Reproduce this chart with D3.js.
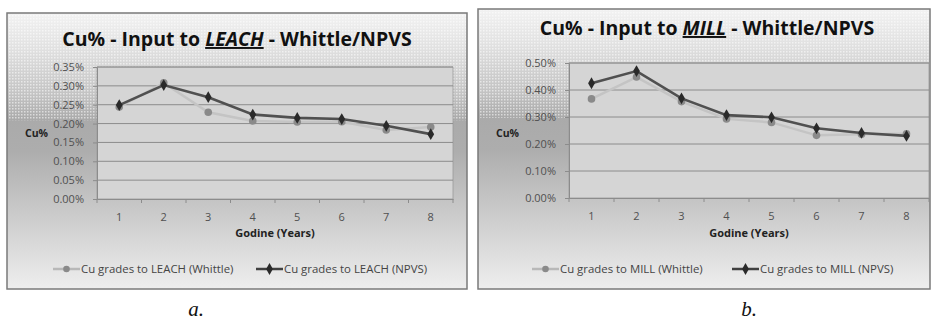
<!DOCTYPE html>
<html><head><meta charset="utf-8">
<script src="https://cdn.jsdelivr.net/npm/d3@7/dist/d3.min.js"></script>
<style>
html,body{margin:0;padding:0;background:#fff;}
svg{display:block;}
</style></head>
<body><svg id="c" width="932" height="320"></svg>
<script>
const years = [1, 2, 3, 4, 5, 6, 7, 8];
const leachWhittle = [0.244, 0.308, 0.230, 0.207, 0.204, 0.205, 0.183, 0.191];
const leachNPVS    = [0.249, 0.302, 0.270, 0.224, 0.215, 0.212, 0.194, 0.172];
const millWhittle  = [0.367, 0.448, 0.357, 0.293, 0.280, 0.232, 0.236, 0.238];
const millNPVS     = [0.425, 0.470, 0.369, 0.307, 0.299, 0.258, 0.241, 0.230];
const leachTicks = [0, 0.05, 0.10, 0.15, 0.20, 0.25, 0.30, 0.35];
const millTicks  = [0, 0.10, 0.20, 0.30, 0.40, 0.50];

const svg = d3.select("#c");
const defs = svg.append("defs");
const grad = defs.append("linearGradient").attr("id","bg").attr("x1",0).attr("y1",0).attr("x2",0).attr("y2",1);
[[0,"#f2f2f2"],[0.12,"#e2e2e2"],[0.3,"#c2c2c2"],[0.385,"#aaaaaa"],[0.5,"#adadad"],[1,"#eeeeee"]].forEach(s=>grad.append("stop").attr("offset",s[0]).attr("stop-color",s[1]));
const pat = defs.append("pattern").attr("id","dots").attr("width",3).attr("height",3).attr("patternUnits","userSpaceOnUse");
pat.append("rect").attr("width",1.5).attr("height",1.5).attr("fill","#ffffff").attr("opacity",0.55);

const FONT = "'Open Sans', 'DejaVu Sans', sans-serif";

function drawChart(cfg){
  const g = svg.append("g");
  // frame
  g.append("rect").attr("x",cfg.fx).attr("y",cfg.fy).attr("width",cfg.fw).attr("height",cfg.fh)
    .attr("fill","url(#bg)");
  g.append("rect").attr("x",cfg.fx+1).attr("y",cfg.fy+1).attr("width",cfg.fw-2).attr("height",cfg.fh*0.385)
    .attr("fill","url(#dots)");
  g.append("rect").attr("x",cfg.fx).attr("y",cfg.fy).attr("width",cfg.fw).attr("height",cfg.fh)
    .attr("fill","none").attr("stroke","#7a7a7a").attr("stroke-width",1.5);

  const x = d3.scaleBand().domain(years).range([cfg.px0, cfg.px1]).padding(0);
  const y = d3.scaleLinear().domain([0, cfg.ymax]).range([cfg.py1, cfg.py0]);

  g.append("rect").attr("x",cfg.px0).attr("y",cfg.py0).attr("width",cfg.px1-cfg.px0).attr("height",cfg.py1-cfg.py0)
    .attr("fill","#d5d5d5").attr("stroke","#9a9a9a").attr("stroke-width",0.8);

  // grid
  g.append("g").selectAll("line").data(cfg.ticks.filter(t=>t>0)).join("line")
    .attr("x1",cfg.px0).attr("x2",cfg.px1).attr("y1",d=>y(d)).attr("y2",d=>y(d))
    .attr("stroke","#8c8c8c").attr("stroke-width",1);

  // y axis
  const ya = g.append("g").attr("transform",`translate(${cfg.px0},0)`)
    .call(d3.axisLeft(y).tickValues(cfg.ticks).tickSize(4).tickPadding(9).tickFormat(d=>d.toFixed(2)+"%"));
  ya.select(".domain").attr("stroke","#8c8c8c");
  ya.selectAll(".tick line").attr("stroke","#8c8c8c");
  ya.selectAll("text").attr("font-family",FONT).attr("font-size",11).attr("fill","#505050");

  // x axis
  const xa = g.append("g").attr("transform",`translate(0,${cfg.py1})`)
    .call(d3.axisBottom(x).tickSize(0).tickPadding(14));
  xa.select(".domain").attr("stroke","#8c8c8c");
  xa.selectAll("text").attr("font-family",FONT).attr("font-size",11).attr("fill","#505050");
  const bounds = years.map(d=>x(d)).concat([x(years[years.length-1])+x.bandwidth()]);
  g.append("g").selectAll("line").data(bounds).join("line")
    .attr("x1",d=>d).attr("x2",d=>d).attr("y1",cfg.py1).attr("y2",cfg.py1+4)
    .attr("stroke","#8c8c8c");

  const cx = d => x(d)+x.bandwidth()/2;
  const line = d3.line().x((d,i)=>cx(years[i])).y(d=>y(d));

  // Whittle series
  g.append("path").datum(cfg.s1).attr("d",line).attr("fill","none").attr("stroke","#c4c4c4").attr("stroke-width",2.5);
  g.append("g").selectAll("circle").data(cfg.s1).join("circle")
    .attr("cx",(d,i)=>cx(years[i])).attr("cy",d=>y(d)).attr("r",3.8).attr("fill","#8a8a8a");
  // NPVS series
  g.append("path").datum(cfg.s2).attr("d",line).attr("fill","none").attr("stroke","#505050").attr("stroke-width",2.6);
  const diamond = d3.symbol().type(d3.symbolDiamond).size(40);
  g.append("g").selectAll("path").data(cfg.s2).join("path")
    .attr("d",diamond).attr("transform",(d,i)=>`translate(${cx(years[i])},${y(d)})`).attr("fill","#2a2a2a");

  // title
  const t = g.append("text").attr("x",(cfg.fx+cfg.fw/2)+cfg.tdx).attr("y",cfg.ty).attr("text-anchor","middle")
    .attr("font-family",FONT).attr("font-weight","bold").attr("font-size",19.5).attr("fill","#111");
  t.append("tspan").text("Cu% - Input to ");
  t.append("tspan").attr("font-style","italic").attr("text-decoration","underline").text(cfg.target);
  t.append("tspan").text(" - Whittle/NPVS");

  // y title
  g.append("text").attr("x",cfg.ytx).attr("y",137).attr("font-family",FONT).attr("font-weight","bold")
    .attr("font-size",10.5).attr("fill","#222").text("Cu%");
  // x title
  g.append("text").attr("x",(cfg.px0+cfg.px1)/2).attr("y",237).attr("text-anchor","middle").attr("font-family",FONT)
    .attr("font-weight","bold").attr("font-size",11).attr("fill","#222").text("Godine (Years)");

  // legend
  const ly = 269;
  const L = g.append("g");
  L.append("line").attr("x1",cfg.l1).attr("x2",cfg.l1+27).attr("y1",ly).attr("y2",ly).attr("stroke","#b8b8b8").attr("stroke-width",2.5);
  L.append("circle").attr("cx",cfg.l1+13.5).attr("cy",ly).attr("r",3.3).attr("fill","#8a8a8a");
  L.append("text").attr("x",cfg.l1+28).attr("y",ly+4).attr("font-family",FONT).attr("font-size",11.4).attr("fill","#444")
    .text(`Cu grades to ${cfg.target} (Whittle)`);
  L.append("line").attr("x1",cfg.l2).attr("x2",cfg.l2+27).attr("y1",ly).attr("y2",ly).attr("stroke","#404040").attr("stroke-width",2.5);
  L.append("path").attr("d",diamond).attr("transform",`translate(${cfg.l2+13.5},${ly})`).attr("fill","#2a2a2a");
  L.append("text").attr("x",cfg.l2+28).attr("y",ly+4).attr("font-family",FONT).attr("font-size",11.4).attr("fill","#444")
    .text(`Cu grades to ${cfg.target} (NPVS)`);

  // caption
  g.append("text").attr("x",cfg.cap).attr("y",316).attr("text-anchor","middle")
    .attr("font-family","'Liberation Serif', 'DejaVu Serif', serif").attr("font-style","italic").attr("font-size",21).attr("fill","#111")
    .text(cfg.caption);
}

drawChart({fx:7, fy:13, fw:460, fh:276, px0:97, px1:453, py0:67, py1:199, ymax:0.35, ticks:leachTicks,
  s1:leachWhittle, s2:leachNPVS, target:"LEACH", ty:46, tdx:0, ytx:25, l1:53, l2:256, caption:"a.", cap:196});
drawChart({fx:478, fy:9, fw:452, fh:280, px0:569, px1:929, py0:63, py1:198, ymax:0.50, ticks:millTicks,
  s1:millWhittle, s2:millNPVS, target:"MILL", ty:35, tdx:3, ytx:496, l1:532, l2:732, caption:"b.", cap:749});
</script>
</body></html>
